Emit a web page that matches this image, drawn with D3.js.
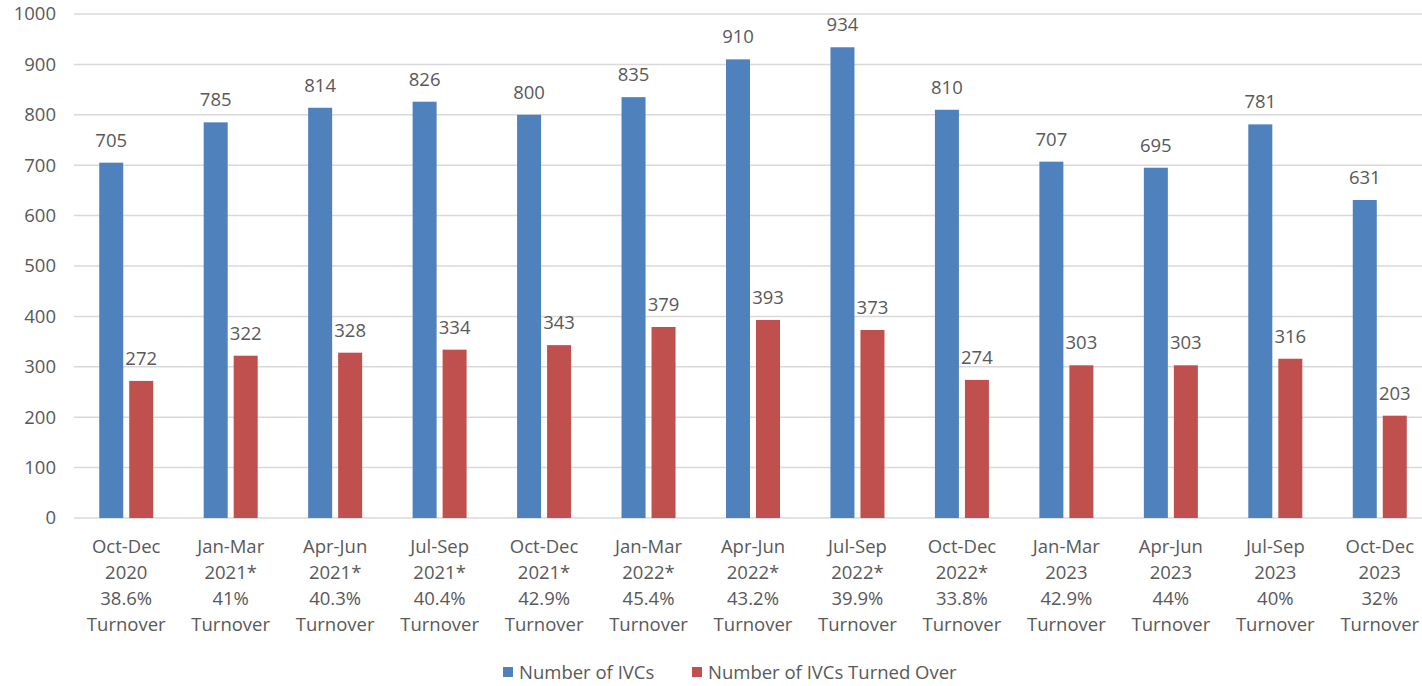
<!DOCTYPE html>
<html><head><meta charset="utf-8">
<script src="https://cdn.jsdelivr.net/npm/d3@7"></script>
<style>body{margin:0;background:#fff}svg{display:block}text{font-family:"Open Sans",Lato,sans-serif;fill:#595959}</style>
</head><body><svg id="c" width="1422" height="686"></svg>
<script>
const periods = ["Oct-Dec","Jan-Mar","Apr-Jun","Jul-Sep","Oct-Dec","Jan-Mar","Apr-Jun","Jul-Sep","Oct-Dec","Jan-Mar","Apr-Jun","Jul-Sep","Oct-Dec"];
const years = ["2020","2021*","2021*","2021*","2021*","2022*","2022*","2022*","2022*","2023","2023","2023","2023"];
const turnover = ["38.6%","41%","40.3%","40.4%","42.9%","45.4%","43.2%","39.9%","33.8%","42.9%","44%","40%","32%"];
const ivcs = [705,785,814,826,800,835,910,934,810,707,695,781,631];
const turnedOver = [272,322,328,334,343,379,393,373,274,303,303,316,203];
const seriesNames = ["Number of IVCs","Number of IVCs Turned Over"];
const colors = ["#4f81bd","#c0504d"];
const yTicks = [0,100,200,300,400,500,600,700,800,900,1000];

(function(){
const svg = d3.select("#c");
const FS = 18.5;
const mLeft = 74, mRight = 1432, gridRight = 1422, mTop = 14, mBottom = 518;
const x = d3.scaleBand().domain(d3.range(periods.length)).range([mLeft, mRight]);
const y = d3.scaleLinear().domain([0,1000]).range([mBottom, mTop]);
const barW = 24, gap = 6;

svg.append("g").selectAll("line").data(yTicks).join("line")
  .attr("x1", mLeft).attr("x2", gridRight).attr("y1", d=>y(d)).attr("y2", d=>y(d))
  .attr("stroke", "#d9d9d9").attr("stroke-width", 1.5);
const yAxis = d3.axisLeft(y).tickValues(yTicks).tickSize(0).tickPadding(18).tickFormat(d3.format("d"));
const ya = svg.append("g").attr("transform", `translate(${mLeft},0)`).call(yAxis);
ya.select(".domain").remove();
ya.selectAll("text").attr("font-size", FS).attr("fill","#595959").style("font-family","'Open Sans', sans-serif");

const data = [ivcs, turnedOver];
data.forEach((vals, si) => {
  const g = svg.append("g");
  const xpos = i => x(i) + x.bandwidth()/2 + (si === 0 ? -(barW + gap/2) : gap/2);
  g.selectAll("rect").data(vals).join("rect")
    .attr("x", (d,i)=>xpos(i)).attr("width", barW)
    .attr("y", d=>y(d)).attr("height", d=>y(0)-y(d))
    .attr("fill", colors[si]);
  g.selectAll("text").data(vals).join("text")
    .attr("x", (d,i)=>xpos(i)+barW/2).attr("y", d=>y(d)-16)
    .attr("text-anchor","middle").attr("font-size",FS).text(d=>d);
});

const lab = svg.append("g");
periods.forEach((p,i)=>{
  const cx = x(i)+x.bandwidth()/2;
  const t = lab.append("text").attr("x",cx).attr("y",553).attr("text-anchor","middle").attr("font-size",FS);
  [p, years[i], turnover[i], "Turnover"].forEach((s,k)=>{
    t.append("tspan").attr("x",cx).attr("dy", k===0?0:26).text(s);
  });
});

const leg = svg.append("g");
const legX = [503, 692];
seriesNames.forEach((s,i)=>{
  leg.append("rect").attr("x",legX[i]).attr("y",667).attr("width",10).attr("height",10).attr("fill",colors[i]);
  leg.append("text").attr("x",legX[i]+16).attr("y",679).attr("font-size",FS).text(s);
});
})();
</script></body></html>
